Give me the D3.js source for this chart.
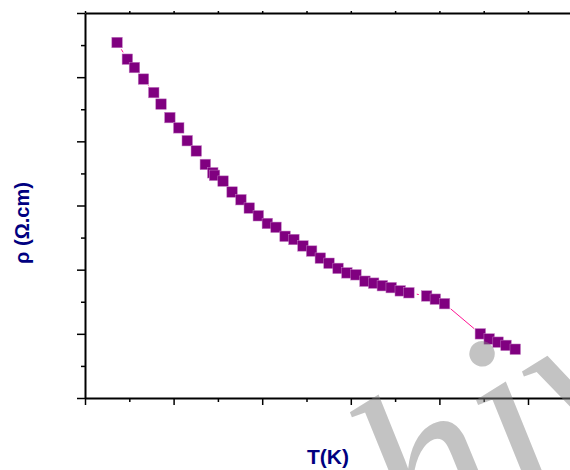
<!DOCTYPE html>
<html>
<head>
<meta charset="utf-8">
<script src="https://cdn.jsdelivr.net/npm/d3@7"></script>
<style>
  html, body { margin: 0; padding: 0; background: #fff; overflow: hidden; }
  svg { display: block; }
</style>
</head>
<body>
<svg id="chart" width="570" height="470"></svg>
<script>
// Resistivity vs temperature (arbitrary axis units, no numeric tick labels)
const temperature = [18.1, 23.9, 27.9, 33.0, 38.8, 42.9, 47.9, 52.9, 57.7, 62.8,
  67.9, 72.1, 73.1, 77.9, 83.0, 88.0, 92.7, 97.8, 102.9, 107.8,
  112.9, 117.9, 123.0, 127.9, 132.8, 137.7, 142.8, 147.8, 152.9, 158.0,
  162.9, 167.8, 172.8, 177.9, 182.8, 192.8, 197.7, 202.9, 223.1, 228.1,
  233.1, 237.6, 242.8];
const resistivity = [5.54, 5.28, 5.15, 4.97, 4.76, 4.58, 4.37, 4.21, 4.01, 3.85,
  3.64, 3.51, 3.47, 3.38, 3.21, 3.09, 2.96, 2.84, 2.72, 2.66,
  2.52, 2.47, 2.37, 2.29, 2.18, 2.10, 2.02, 1.95, 1.92, 1.82,
  1.79, 1.75, 1.72, 1.67, 1.64, 1.59, 1.54, 1.47, 1.00, 0.92,
  0.87, 0.82, 0.76];

const xMajorTicks = [0, 50, 100, 150, 200, 250, 300];
const xMinorTicks = [25, 75, 125, 175, 225, 275];
const yMajorTicks = [0, 1, 2, 3, 4, 5, 6];
const yMinorTicks = [0.5, 1.5, 2.5, 3.5, 4.5, 5.5];

const xTitle = "T(K)";
const yTitle = "ρ (Ω.cm)";
const watermarkText = "Archive of SID";

const svg = d3.select("#chart");

const x = d3.scaleLinear().domain([0, 300]).range([85, 616.6]);
const y = d3.scaleLinear().domain([0, 6]).range([398, 13]);

const axisColor = "#000";

function styleAxis(g, lineWidth) {
  g.select(".domain").attr("stroke", axisColor).attr("stroke-width", lineWidth);
  g.selectAll(".tick line").attr("stroke", axisColor).attr("stroke-width", 1.5);
  g.selectAll(".tick text").remove();
}

// bottom axis: major + minor ticks
svg.append("g").attr("transform", `translate(0,${y(0)})`)
  .call(d3.axisBottom(x).tickValues(xMajorTicks).tickSize(7).tickSizeOuter(0).tickFormat(""))
  .call(g => styleAxis(g, 2));
svg.append("g").attr("transform", `translate(0,${y(0)})`)
  .call(d3.axisBottom(x).tickValues(xMinorTicks).tickSize(4).tickSizeOuter(0).tickFormat(""))
  .call(g => { styleAxis(g, 2); g.select(".domain").remove(); });

// top axis (small outward ticks)
svg.append("g").attr("transform", `translate(0,${y(6)})`)
  .call(d3.axisTop(x).tickValues(xMajorTicks.concat(xMinorTicks)).tickSize(2).tickSizeOuter(0).tickFormat(""))
  .call(g => styleAxis(g, 2));

// left axis
svg.append("g").attr("transform", `translate(${x(0)},0)`)
  .call(d3.axisLeft(y).tickValues(yMajorTicks).tickSize(8).tickSizeOuter(0).tickFormat(""))
  .call(g => styleAxis(g, 2));
svg.append("g").attr("transform", `translate(${x(0)},0)`)
  .call(d3.axisLeft(y).tickValues(yMinorTicks).tickSize(4).tickSizeOuter(0).tickFormat(""))
  .call(g => { styleAxis(g, 2); g.select(".domain").remove(); });

// connecting line, broken around each symbol
const pts = temperature.map((t, i) => [x(t), y(resistivity[i])]);
const gap = 8;
const segs = d3.pairs(pts).map(([a, b]) => {
  const dx = b[0] - a[0], dy = b[1] - a[1], L = Math.hypot(dx, dy);
  if (L <= 2 * gap) return null;
  return [a[0] + dx * gap / L, a[1] + dy * gap / L, b[0] - dx * gap / L, b[1] - dy * gap / L];
}).filter(Boolean);

svg.append("g").selectAll("line").data(segs).join("line")
  .attr("x1", d => d[0]).attr("y1", d => d[1])
  .attr("x2", d => d[2]).attr("y2", d => d[3])
  .attr("stroke", "#ff1493").attr("stroke-width", 1);

// square symbols
const sz = 10.5;
svg.append("g").selectAll("rect").data(pts).join("rect")
  .attr("x", d => d[0] - sz / 2).attr("y", d => d[1] - sz / 2)
  .attr("width", sz).attr("height", sz)
  .attr("fill", "#800080")
  .attr("stroke", "#c27ec2").attr("stroke-width", 0.5);

// axis titles
svg.append("text")
  .attr("x", 328).attr("y", 464)
  .attr("text-anchor", "middle")
  .attr("font-family", "Liberation Sans, Arial, sans-serif")
  .attr("font-weight", "bold").attr("font-size", 21)
  .attr("fill", "#000080")
  .text(xTitle);

svg.append("text")
  .attr("transform", "translate(29,223) rotate(-90)")
  .attr("text-anchor", "middle")
  .attr("font-family", "Liberation Sans, Arial, sans-serif")
  .attr("font-weight", "bold").attr("font-size", 20)
  .attr("fill", "#000080")
  .text(yTitle);

// diagonal watermark
svg.append("text")
  .attr("transform", "translate(132,745) rotate(-32)")
  .attr("font-family", "Liberation Serif, serif")
  .attr("font-style", "italic")
  .attr("font-size", 240)
  .attr("fill", "#808080").attr("fill-opacity", 0.47)
  .text(watermarkText);
</script>
</body>
</html>
